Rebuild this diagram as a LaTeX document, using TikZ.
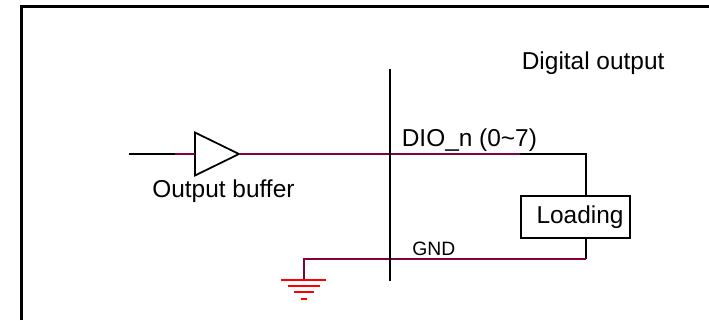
\documentclass[tikz,border=0pt]{standalone}
\usepackage{fontspec}
\setmainfont{Liberation Sans}
\usetikzlibrary{shapes.geometric}
\definecolor{wr}{RGB}{128,0,64}
\tikzset{bl/.append style={draw=black,line width=1pt}}
\tikzset{mr/.append style={draw=wr,line width=1pt}}
\tikzset{rd/.append style={draw=red,line width=1pt}}
\tikzset{tx/.append style={inner sep=0pt,anchor=base west,font=\fontsize{13.9}{16}\selectfont}}
\begin{document}
\begin{tikzpicture}
                \useasboundingbox (0,0) rectangle (14.18,6.4);
                \coordinate (fa) at (0.43,0);
                \coordinate (fb) at (0.43,6.27);
                \coordinate (fc) at (14.18,6.27);
                \coordinate (i) at (2.58,3.32);
                \coordinate (im) at (3.5,3.32);
                \coordinate (om) at (10.4,3.32);
                \coordinate (dr) at (11.72,3.32);
                \coordinate (gr) at (11.72,1.22);
                \coordinate (gl) at (6.08,1.22);
                \coordinate (g) at (6.08,0.8);
                \coordinate (vt) at (7.8,5.02);
                \coordinate (vb) at (7.8,0.78);
                \node[bl,isosceles triangle,isosceles triangle stretches,shape border rotate=0,minimum width=0.86cm,minimum height=0.88cm,inner sep=0pt,outer sep=0pt,anchor=lower side] (buf) at (3.9,3.32) {};
                \node[bl,rectangle,minimum width=2.18cm,minimum height=0.84cm,inner sep=0pt,outer sep=0pt,font=\fontsize{13.9}{16}\selectfont] (load) at (11.51,2.06) {\hspace*{0.18cm}Loading};
                \node[tx] (obuf) at (3.04,2.45) {Output buffer};
                \node[tx] (dout) at (10.43,5.02) {Digital output};
                \node[tx] (dio) at (8.03,3.48) {DIO\_n (0\textasciitilde 7)};
                \node[tx,font=\fontsize{11}{13}\selectfont] (gnd) at (8.24,1.3) {GND};
                % frame runs off the page
                \path[bl,line width=1.2pt] (fa) -- (fb) -- (fc);
                \path[bl] (i) -- (im);
                \path[mr] (im) -- (buf.lower side);
                \path[mr] (buf.apex) -- (om);
                \path[bl] (om) -- (dr) -- (dr |- load.north);
                \path[bl] (dr |- load.south) -- (gr);
                \path[mr] (gr) -- (gl) -- (g);
                \path[bl] (vt) -- (vb);
                % ground
                \path[rd] (5.62,0.8) -- (6.52,0.8);
                \path[rd] (5.76,0.68) -- (6.4,0.68);
                \path[rd] (5.88,0.56) -- (6.28,0.56);
                \path[rd] (6.02,0.42) -- (6.14,0.42);
            \end{tikzpicture}
\end{document}
